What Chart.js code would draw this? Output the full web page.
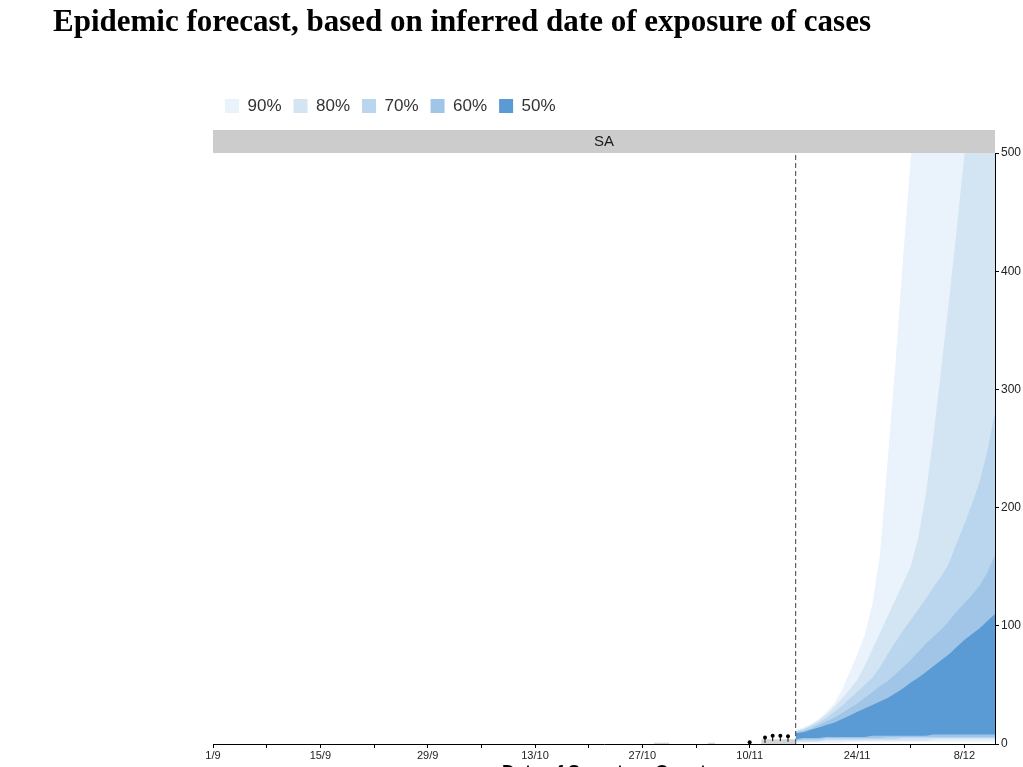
<!DOCTYPE html>
<html>
<head>
<meta charset="utf-8">
<script src="https://cdn.jsdelivr.net/npm/chart.js@4"></script>
<style>
  body { margin: 0; background: #fff; }
  canvas { display: block; }
</style>
</head>
<body>
<canvas id="forecast" width="1023" height="767"></canvas>
<script>
// days are counted from 1 Sep
const tickDays = [0, 14, 28, 42, 56, 70, 84, 98];
const tickLabels = ["1/9", "15/9", "29/9", "13/10", "27/10", "10/11", "24/11", "8/12"];

const fanDays = [76, 77, 78, 79, 80, 81, 82, 83, 84, 85, 86, 87, 88, 89, 90, 91, 92, 93, 94, 95, 96, 97, 98, 99, 100, 101, 102];
const hi90 = [12, 14, 17, 21, 27, 34, 45, 60, 75, 92, 118, 160, 240, 320, 410, 495, 580, 660, 740, 820, 900, 980, 1060, 1140, 1220, 1300, 1380];
const lo90 = [1, 1, 1, 1, 1, 1, 1, 2, 2, 2, 2, 2, 2, 2, 2, 2, 2, 2, 2, 2, 2, 2, 2, 2, 2, 2, 2];
const hi80 = [11, 13, 16, 20, 25, 31, 38, 46, 54, 66, 80, 94, 108, 122, 136, 150, 175, 212, 262, 318, 375, 435, 498, 560, 625, 690, 760];
const lo80 = [2, 2, 2, 2, 3, 3, 3, 3, 3, 3, 3, 3, 3, 3, 3, 3, 3, 3, 4, 4, 4, 4, 4, 4, 4, 4, 4];
const hi70 = [10.5, 12, 15, 18, 22, 27, 32, 38, 44, 50, 56, 65, 76, 86, 96, 105, 114, 123, 133, 142, 153, 170, 186, 203, 222, 248, 280];
const lo70 = [3, 3, 3, 3, 4, 4, 4, 4, 4, 4, 4, 4, 4, 4, 5, 5, 5, 5, 5, 5, 5, 5, 5, 5, 5, 5, 5];
const hi60 = [10, 11, 13, 16, 19, 22, 26, 30, 34, 39, 44, 49, 53, 59, 65, 71, 78, 85, 91, 97, 104, 112, 119, 126, 134, 145, 160];
const lo60 = [3, 4, 4, 4, 5, 5, 5, 5, 5, 5, 5, 5, 6, 6, 6, 6, 6, 6, 6, 6, 6, 6, 6, 6, 6, 6, 6];
const hi50 = [9, 10, 12, 14, 16, 18, 21, 24, 27, 30, 33, 36, 39, 43, 47, 52, 56, 61, 66, 71, 76, 82, 88, 93, 98, 104, 110];
const lo50 = [4, 5, 5, 5, 6, 6, 6, 6, 6, 6, 7, 7, 7, 7, 7, 7, 7, 7, 8, 8, 8, 8, 8, 8, 8, 8, 8];

// grey nowcast ribbon (null splits the pieces)
const greyDays = [57.5, 59.5, 60, 64.5, 65.5, 66, 71.5, 76];
const greyVals = [1, 1, null, 1, 1, null, 4, 4];

// observed cases
const obsDays = [70, 72, 73, 74, 75];
const obsCases = [1.5, 5.5, 7, 7, 6.5];

const forecastDay = 76;

const fontFam = "'Liberation Sans', Arial, sans-serif";
const bandColors = { "90%": "#eaf2fb", "80%": "#d3e4f3", "70%": "#bad6ee", "60%": "#a0c5e6", "50%": "#5b9bd5" };

function pts(xs, ys) {
    return xs.map((x, i) => ({ x: x, y: ys[i] }));
}

function band(label, lo, hi, order) {
    return [
        { label: "lo " + label, data: pts(fanDays, lo), borderWidth: 0, pointRadius: 0, fill: false, order: order },
        { label: label, data: pts(fanDays, hi), borderWidth: 0, pointRadius: 0, fill: "-1",
          backgroundColor: bandColors[label], borderColor: bandColors[label], order: order }
    ];
}

const stripAndTitle = {
    id: "stripAndTitle",
    beforeDraw(chart) {
        const ctx = chart.ctx;
        const a = chart.chartArea;
        ctx.save();
        ctx.fillStyle = "#ffffff";
        ctx.fillRect(0, 0, chart.width, chart.height);
        ctx.fillStyle = "#cccccc";
        ctx.fillRect(a.left, a.top - 23, a.right - a.left, 23);
        ctx.restore();
    },
    afterDraw(chart) {
        const ctx = chart.ctx;
        ctx.save();
        ctx.fillStyle = "#000";
        ctx.textBaseline = "middle";
        ctx.font = "bold 31px 'Liberation Serif', 'Times New Roman', serif";
        ctx.fillText("Epidemic forecast, based on inferred date of exposure of cases", 53, 23, 819);
        ctx.font = "bold 18px " + fontFam;
        ctx.textAlign = "center";
        ctx.textBaseline = "alphabetic";
        ctx.fillText("Date of Symptom Onset", (chart.chartArea.left + chart.chartArea.right) / 2, 778);
        ctx.restore();
    }
};

const datasets = [].concat(
    band("90%", lo90, hi90, 10),
    band("80%", lo80, hi80, 9),
    band("70%", lo70, hi70, 8),
    band("60%", lo60, hi60, 7),
    band("50%", lo50, hi50, 6),
    [
        { label: "nowcast", data: pts(greyDays, greyVals), borderWidth: 0, pointRadius: 0,
          fill: "origin", backgroundColor: "#d4d4d4", spanGaps: false, order: 5 },
        { label: "forecast start", data: [{ x: forecastDay, y: 0 }, { x: forecastDay, y: 500 }],
          borderColor: "#444", borderWidth: 1, borderDash: [5, 3], pointRadius: 0, fill: false, order: 3 },
        { label: "observed bars", data: pts(obsDays, obsCases.map(v => v - 2)), showLine: false,
          pointStyle: "line", rotation: 90, pointRadius: 3, borderColor: "#000", borderWidth: 1, order: 2 },
        { label: "observed", data: pts(obsDays, obsCases), showLine: false,
          pointRadius: 2, pointBackgroundColor: "#000", pointBorderColor: "#000", borderWidth: 0, order: 1 }
    ]
);

const forecastChart = new Chart(document.getElementById("forecast"), {
    type: "line",
    data: { datasets: datasets },
    plugins: [stripAndTitle],
    options: {
        responsive: false,
        animation: false,
        devicePixelRatio: 1,
        elements: { line: { tension: 0 } },
        layout: { padding: { left: 213, top: 85.5, right: 0, bottom: 0 } },
        plugins: {
            tooltip: { enabled: false },
            legend: {
                position: "top",
                align: "start",
                fullSize: false,
                labels: {
                    boxWidth: 14,
                    boxHeight: 14,
                    padding: 12,
                    color: "#333",
                    font: { size: 17, family: fontFam },
                    filter: (item) => item.text.endsWith("%") && !item.text.startsWith("lo"),
                    sort: (a, b) => a.datasetIndex - b.datasetIndex
                }
            },
            title: {
                display: true,
                text: "SA",
                position: "top",
                fullSize: false,
                weight: 500,
                align: "center",
                color: "#1a1a1a",
                font: { size: 15, family: fontFam, weight: "normal" },
                padding: { top: 8, bottom: 2.5 }
            }
        },
        scales: {
            x: {
                type: "linear",
                min: 0,
                max: 102,
                afterFit: (scale) => { scale.height = 23; },
                border: { display: true, color: "#000", width: 1 },
                grid: { drawOnChartArea: false, drawTicks: true, tickLength: 4, color: "#000" },
                ticks: {
                    stepSize: 7,
                    includeBounds: false,
                    autoSkip: false,
                    maxRotation: 0,
                    padding: 1,
                    color: "#222",
                    font: { size: 11, family: fontFam },
                    callback: (v) => {
                        const i = tickDays.indexOf(v);
                        return i >= 0 ? tickLabels[i] : "";
                    }
                }
            },
            y: {
                position: "right",
                min: 0,
                max: 500,
                afterFit: (scale) => { scale.width = 28; },
                border: { display: true, color: "#000", width: 1 },
                grid: { drawOnChartArea: false, drawTicks: true, tickLength: 4, color: "#000" },
                ticks: {
                    stepSize: 100,
                    padding: 2,
                    color: "#222",
                    font: { size: 12, family: fontFam }
                }
            }
        }
    }
});
</script>
</body>
</html>
